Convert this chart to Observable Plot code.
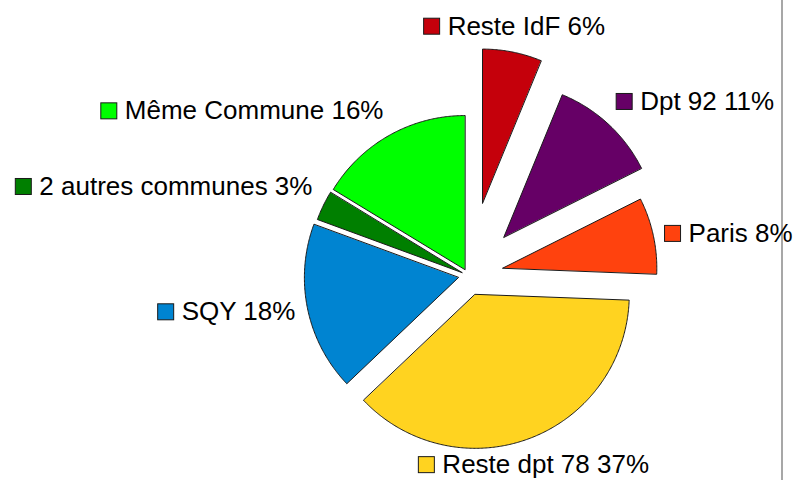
<!DOCTYPE html>
<html><head><meta charset="utf-8">
<script src="https://cdn.jsdelivr.net/npm/d3@7"></script>
<script src="https://cdn.jsdelivr.net/npm/@observablehq/plot@0.6"></script>
<style>body{margin:0;background:#fff}</style>
</head><body><div id="chart"></div>
<script>
// ---- data ----
const categories = ["Reste IdF", "Dpt 92", "Paris", "Reste dpt 78", "SQY", "2 autres communes", "Même Commune"];
const shares = [6.2, 11.4, 8.0, 37.3, 17.7, 3.1, 16.3];
const sliceColors = ["#c5000b", "#660066", "#ff420e", "#ffd320", "#0084d1", "#007f00", "#00ff00"];
const explode = [0.48, 0.34, 0.23, 0.13, 0.065, 0.045, 0.045];

// ---- layout ----
const W = 796, H = 480;
const cx = 467.7, cy = 275.1, radius = 154, labelRadius = 166;
const fontSize = 26, ascent = 0.905 * fontSize, descent = 0.212 * fontSize;
const swatch = 16, textOffset = 23.5;
const chartRightEdge = 781.5;

const total = d3.sum(shares);
let acc = 0;
const slices = categories.map((name, i) => {
  const a0 = acc / total * 2 * Math.PI; acc += shares[i];
  const a1 = acc / total * 2 * Math.PI;
  const mid = (a0 + a1) / 2, e = explode[i] * radius;
  return {name, value: shares[i], a0, a1, mid,
    ox: cx + e * Math.sin(mid), oy: cy - e * Math.cos(mid)};
});

const points = [];
for (const s of slices) {
  points.push({name: s.name, x: s.ox, y: s.oy});
  const n = Math.max(2, Math.ceil((s.a1 - s.a0) / (Math.PI / 360)));
  for (let k = 0; k <= n; k++) {
    const a = s.a0 + (s.a1 - s.a0) * k / n;
    points.push({name: s.name, x: s.ox + radius * Math.sin(a), y: s.oy - radius * Math.cos(a)});
  }
}

const ctx = document.createElement("canvas").getContext("2d");
ctx.font = `${fontSize}px "Liberation Sans"`;
const labels = slices.map(s => {
  const label = `${s.name} ${Math.round(s.value)}%`;
  const tw = ctx.measureText(label).width;
  const bw = textOffset + tw, bh = ascent + descent;
  const px = s.ox + labelRadius * Math.sin(s.mid), py = s.oy - labelRadius * Math.cos(s.mid);
  const deg = s.mid * 180 / Math.PI;
  const sector = Math.floor(((deg + 22.5) % 360) / 45); // 0=top,1=top-right,...
  const ha = [0, 1, 1, 1, 0, -1, -1, -1][sector]; // 1: left edge at P, 0 center, -1 right edge
  const va = [-1, -1, 0, 1, 1, 1, 0, -1][sector]; // -1: bottom at P, 0 middle, 1 top at P
  const L = ha === 1 ? px : ha === 0 ? px - bw / 2 : px - bw;
  const T = va === 1 ? py : va === 0 ? py - bh / 2 : py - bh;
  const baseline = T + ascent;
  const sqc = baseline - 8;
  return {name: s.name, label, tx: L + textOffset, baseline,
    x1: L, x2: L + swatch, y1: sqc - swatch / 2, y2: sqc + swatch / 2};
});

const chart = Plot.plot({
  width: W, height: H,
  marginTop: 0, marginRight: 0, marginBottom: 0, marginLeft: 0,
  x: {domain: [0, W], range: [0, W], axis: null},
  y: {domain: [0, H], range: [0, H], axis: null},
  color: {domain: categories, range: sliceColors},
  style: {background: "#fff", fontFamily: "Liberation Sans"},
  marks: [
    Plot.ruleX([chartRightEdge], {stroke: "#8a8a8a", strokeWidth: 1.5}),
    Plot.line(points, {x: "x", y: "y", z: "name", fill: "name", stroke: "#1a1a1a",
      strokeWidth: 1, curve: "linear-closed"}),
    Plot.rect(labels, {x1: "x1", x2: "x2", y1: "y1", y2: "y2", fill: "name",
      stroke: "#1a1a1a", strokeWidth: 1}),
    Plot.text(labels, {x: "tx", y: "baseline", text: "label", textAnchor: "start",
      lineAnchor: "bottom", fontSize, fontFamily: "Liberation Sans", fill: "#000"})
  ]
});
document.getElementById("chart").appendChild(chart);
</script>
</body></html>
